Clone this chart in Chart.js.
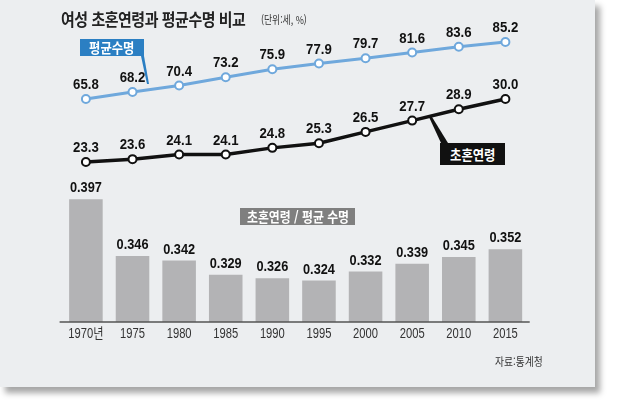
<!DOCTYPE html>
<html lang="ko">
<head>
<meta charset="utf-8">
<script src="https://cdn.jsdelivr.net/npm/chart.js@4/dist/chart.umd.min.js"></script>
<style>
  html, body { margin: 0; padding: 0; background: #fff; }
  body { width: 620px; height: 409px; position: relative; overflow: hidden; }
  .card {
    position: absolute; left: 0; top: 0; width: 595px; height: 387px;
    background: #eceef0;
    box-shadow: 5px 6px 6px rgba(0,0,0,0.35);
  }
  canvas { position: absolute; left: 0; top: 0; }
  .txt { position: absolute; white-space: nowrap; font-family: "Noto Sans CJK KR", sans-serif; transform-origin: 0 50%; }
  .title { left: 61px; top: 6px; font-size: 17px; font-weight: 700; color: #222; transform: scaleX(0.88); letter-spacing: -0.5px; }
  .unit { left: 261px; top: 11px; font-size: 11px; color: #333; transform: scaleX(0.8); }
  .tag { position: absolute; color: #fff; font-family: "Noto Sans CJK KR", sans-serif; font-weight: 700; text-align: center; }
  .tag span { display: inline-block; transform: scaleX(0.88); white-space: nowrap; }
  .life { left: 80px; top: 39px; width: 64px; height: 17px; line-height: 17px; font-size: 14px; background: #2b7fc3; }
  .age { left: 440px; top: 143px; width: 65px; height: 22px; line-height: 22px; font-size: 14px; background: #111; }
  .ratio { left: 240px; top: 208px; width: 115px; height: 17px; line-height: 17px; font-size: 13.5px; background: #7f7f7f; }
  .src { left: 495px; top: 353px; font-size: 11.5px; color: #333; transform: scaleX(0.85); }
  svg { position: absolute; left: 0; top: 0; }
</style>
</head>
<body>
<div class="card"></div>
<svg width="620" height="409">
  <polygon points="141,56 144,56 149,84 147,84" fill="#2b7fc3"/>
  <polygon points="429,117 432,117 448,143 441,143" fill="#111"/>
</svg>
<canvas id="chart" width="620" height="409"></canvas>
<div class="txt title">여성 초혼연령과 평균수명 비교</div>
<div class="txt unit">(단위:세, %)</div>
<div class="tag life"><span>평균수명</span></div>
<div class="tag age"><span>초혼연령</span></div>
<div class="tag ratio"><span>초혼연령 / 평균 수명</span></div>
<div class="txt src">자료:통계청</div>
<script>
const years = ['1970년', '1975', '1980', '1985', '1990', '1995', '2000', '2005', '2010', '2015'];
const lifeExpectancy = [65.8, 68.2, 70.4, 73.2, 75.9, 77.9, 79.7, 81.6, 83.6, 85.2];
const marriageAge = [23.3, 23.6, 24.1, 24.1, 24.8, 25.3, 26.5, 27.7, 28.9, 30.0];
const ratio = [0.397, 0.346, 0.342, 0.329, 0.326, 0.324, 0.332, 0.339, 0.345, 0.352];

// draws value labels, year labels and the baseline in a condensed look
const labelPlugin = {
  id: 'labels',
  afterDatasetsDraw(chart) {
    const ctx = chart.ctx;
    const area = chart.chartArea;
    const x = chart.scales.x;

    const drawText = (text, px, py, font, color, sx) => {
      ctx.save();
      ctx.translate(px, py);
      ctx.scale(sx, 1);
      ctx.font = font;
      ctx.fillStyle = color;
      ctx.textAlign = 'center';
      ctx.textBaseline = 'middle';
      ctx.fillText(text, 0, 0);
      ctx.restore();
    };

    ctx.save();
    ctx.strokeStyle = '#555';
    ctx.lineWidth = 1.5;
    ctx.beginPath();
    ctx.moveTo(area.left - 3, area.bottom);
    ctx.lineTo(area.right + 1, area.bottom);
    ctx.stroke();
    ctx.restore();

    years.forEach((y, i) => {
      drawText(y, x.getPixelForValue(i), area.bottom + 12, '14px "Liberation Sans", "Noto Sans CJK KR"', '#333', 0.8);
    });

    const bold = 'bold 15px "Liberation Sans", sans-serif';
    chart.getDatasetMeta(0).data.forEach((p, i) => {
      drawText(lifeExpectancy[i].toFixed(1), p.x, p.y - 14, bold, '#111', 0.88);
    });
    chart.getDatasetMeta(1).data.forEach((p, i) => {
      drawText(marriageAge[i].toFixed(1), p.x, p.y - 14, bold, '#111', 0.88);
    });
    chart.getDatasetMeta(2).data.forEach((b, i) => {
      drawText(ratio[i].toFixed(3), b.x, b.y - 11, bold, '#111', 0.85);
    });
  }
};

new Chart(document.getElementById('chart'), {
  type: 'bar',
  data: {
    labels: years,
    datasets: [
      {
        type: 'line',
        label: '평균수명',
        data: lifeExpectancy,
        yAxisID: 'yLife',
        borderColor: '#6fa8dc',
        borderWidth: 3,
        pointRadius: 4,
        pointBorderWidth: 2,
        pointBackgroundColor: '#fff',
        pointBorderColor: '#6fa8dc',
        tension: 0,
        order: 0
      },
      {
        type: 'line',
        label: '초혼연령',
        data: marriageAge,
        yAxisID: 'yAge',
        borderColor: '#111',
        borderWidth: 3.5,
        pointRadius: 4,
        pointBorderWidth: 2,
        pointBackgroundColor: '#fff',
        pointBorderColor: '#111',
        tension: 0,
        order: 0
      },
      {
        label: '초혼연령/평균 수명',
        data: ratio,
        yAxisID: 'yBar',
        backgroundColor: '#b3b3b5',
        barPercentage: 0.72,
        categoryPercentage: 1,
        order: 1
      }
    ]
  },
  options: {
    responsive: false,
    animation: false,
    devicePixelRatio: 1,
    layout: { padding: { left: 62.6, right: 91.3, top: 20, bottom: 87 } },
    scales: {
      x: { display: false, offset: true },
      yBar: { display: false, min: 0.2866, max: 0.5582 },
      yLife: { display: false, min: -10.1, max: 92.69 },
      yAge: { display: false, min: 6.28, max: 38.40 }
    },
    plugins: {
      legend: { display: false },
      tooltip: { enabled: false }
    }
  },
  plugins: [labelPlugin]
});
</script>
</body>
</html>
